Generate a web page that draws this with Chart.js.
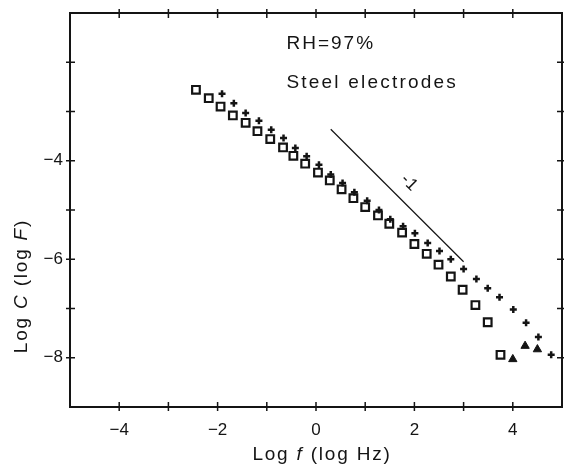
<!DOCTYPE html>
<html>
<head>
<meta charset="utf-8">
<script src="https://cdn.jsdelivr.net/npm/chart.js@4.4.1/dist/chart.umd.min.js"></script>
<style>
  html, body { margin: 0; padding: 0; background: #fff; }
  #wrap { width: 564px; height: 473px; }
</style>
</head>
<body>
<div id="wrap"><canvas id="capChart" width="564" height="473"></canvas></div>
<script>
// capacitance vs frequency, steel electrodes, RH = 97 %
// log f in log Hz, log C in log F
const squareLogF = [-2.44, -2.18, -1.94, -1.69, -1.43, -1.19, -0.93, -0.67, -0.46, -0.22,
                    0.04, 0.28, 0.52, 0.76, 1.0, 1.26, 1.49, 1.75, 2.0, 2.25,
                    2.49, 2.74, 2.98, 3.24, 3.49, 3.75];
const squareLogC = [-2.56, -2.73, -2.90, -3.08, -3.23, -3.40, -3.56, -3.73, -3.90, -4.06,
                    -4.24, -4.40, -4.58, -4.76, -4.94, -5.11, -5.28, -5.46, -5.69, -5.89,
                    -6.11, -6.35, -6.62, -6.93, -7.28, -7.94];

const plusLogF = [-1.91, -1.67, -1.43, -1.16, -0.91, -0.66, -0.42, -0.19, 0.06, 0.30,
                  0.54, 0.78, 1.04, 1.28, 1.51, 1.77, 2.01, 2.27, 2.51, 2.74,
                  3.0, 3.26, 3.49, 3.73, 4.01, 4.27, 4.52, 4.78];
const plusLogC = [-2.64, -2.83, -3.03, -3.19, -3.37, -3.54, -3.74, -3.91, -4.08, -4.28,
                  -4.45, -4.64, -4.81, -5.0, -5.19, -5.33, -5.47, -5.67, -5.83, -6.0,
                  -6.20, -6.40, -6.59, -6.77, -7.02, -7.29, -7.58, -7.94];

const triLogF = [4.0, 4.25, 4.5];
const triLogC = [-8.03, -7.76, -7.83];

// reference slope of -1
const slopeLogF = [0.3, 3.0];
const slopeLogC = [-3.36, -6.05];

const xLabelled = [-4, -2, 0, 2, 4];
const yLabelled = [-4, -6, -8];

const ink = '#141414';
const font = '"Liberation Sans", Arial, sans-serif';

const toPts = (xs, ys) => xs.map((v, i) => ({ x: v, y: ys[i] }));
const fmt = v => (v < 0 ? '\u2212' + Math.abs(v) : String(v));

// draw a run of text pieces (some italic) starting at x
function drawRuns(ctx, runs, x, y, align, spacing) {
  ctx.letterSpacing = spacing + 'px';
  let total = 0;
  runs.forEach(r => {
    ctx.font = (r.it ? 'italic ' : '') + r.size + 'px ' + font;
    r.w = ctx.measureText(r.t).width;
    total += r.w;
  });
  let cx = align === 'center' ? x - total / 2 : x;
  runs.forEach(r => {
    ctx.font = (r.it ? 'italic ' : '') + r.size + 'px ' + font;
    ctx.fillText(r.t, cx, y);
    cx += r.w;
  });
}

const framePlugin = {
  id: 'frame',
  afterDraw(chart) {
    const { ctx, chartArea: a, scales: { x, y } } = chart;
    ctx.save();
    ctx.strokeStyle = ink;
    ctx.fillStyle = ink;
    ctx.lineWidth = 2;
    ctx.strokeRect(a.left, a.top, a.right - a.left, a.bottom - a.top);

    // ticks cross the frame on all four sides
    ctx.lineWidth = 1.5;
    ctx.beginPath();
    x.ticks.forEach(t => {
      const px = x.getPixelForValue(t.value);
      if (px <= a.left + 1 || px >= a.right - 1) return;
      ctx.moveTo(px, a.bottom - 5); ctx.lineTo(px, a.bottom + 4);
      ctx.moveTo(px, a.top - 4); ctx.lineTo(px, a.top + 5);
    });
    y.ticks.forEach(t => {
      const py = y.getPixelForValue(t.value);
      if (py <= a.top + 1 || py >= a.bottom - 1) return;
      ctx.moveTo(a.left - 4, py); ctx.lineTo(a.left + 5, py);
      ctx.moveTo(a.right - 5, py); ctx.lineTo(a.right + 4, py);
    });
    ctx.stroke();

    // notes inside the plot
    ctx.textAlign = 'left';
    ctx.textBaseline = 'alphabetic';
    drawRuns(ctx, [{ t: 'RH=97%', size: 19 }], x.getPixelForValue(-0.6), y.getPixelForValue(-1.74), 'left', 2);
    drawRuns(ctx, [{ t: 'Steel electrodes', size: 19 }], x.getPixelForValue(-0.6), y.getPixelForValue(-2.52), 'left', 2.2);

    // slope label
    ctx.save();
    ctx.translate(x.getPixelForValue(1.9), y.getPixelForValue(-4.45));
    ctx.rotate(Math.PI / 4);
    ctx.textAlign = 'center';
    ctx.textBaseline = 'middle';
    ctx.letterSpacing = '1px';
    ctx.font = '17px ' + font;
    ctx.fillText('-1', 0, 0);
    ctx.restore();

    // axis titles
    ctx.textAlign = 'left';
    ctx.textBaseline = 'alphabetic';
    drawRuns(ctx, [
      { t: 'Log ', size: 19 },
      { t: 'f', size: 19, it: true },
      { t: ' (log Hz)', size: 19 }
    ], 322, 460, 'center', 1.8);

    ctx.save();
    ctx.translate(27, 286);
    ctx.rotate(-Math.PI / 2);
    drawRuns(ctx, [
      { t: 'Log ', size: 19 },
      { t: 'C', size: 19, it: true },
      { t: ' (log ', size: 19 },
      { t: 'F', size: 19, it: true },
      { t: ')', size: 19 }
    ], 0, 0, 'center', 1.8);
    ctx.restore();

    ctx.restore();
  }
};

new Chart(document.getElementById('capChart'), {
  type: 'scatter',
  data: {
    datasets: [
      {
        type: 'line',
        data: toPts(slopeLogF, slopeLogC),
        borderColor: ink,
        borderWidth: 1.2,
        pointRadius: 0,
        fill: false
      },
      {
        data: toPts(squareLogF, squareLogC),
        pointStyle: 'rect',
        pointRadius: 5.4,
        pointBorderWidth: 2.2,
        borderColor: ink,
        backgroundColor: 'rgba(255,255,255,0)'
      },
      {
        data: toPts(plusLogF, plusLogC),
        pointStyle: 'cross',
        pointRadius: 3.5,
        pointBorderWidth: 2.5,
        borderColor: ink,
        backgroundColor: ink
      },
      {
        data: toPts(triLogF, triLogC),
        pointStyle: 'triangle',
        pointRadius: 4.8,
        pointBorderWidth: 1,
        borderColor: ink,
        backgroundColor: ink
      }
    ]
  },
  options: {
    responsive: false,
    devicePixelRatio: 1,
    animation: false,
    events: [],
    layout: { autoPadding: false, padding: { top: 13, right: 2, left: 0, bottom: 0 } },
    plugins: { legend: { display: false }, tooltip: { enabled: false } },
    scales: {
      x: {
        type: 'linear',
        min: -5, max: 5,
        grid: { color: 'rgba(0,0,0,0)', drawOnChartArea: false, tickLength: 4 },
        border: { display: false },
        ticks: {
          stepSize: 1,
          autoSkip: false,
          maxRotation: 0,
          padding: 9,
          color: ink,
          font: { family: font, size: 17 },
          callback: v => (xLabelled.includes(v) ? fmt(v) : '')
        },
        afterFit: s => { s.height = 66; s.paddingLeft = 0; s.paddingRight = 0; }
      },
      y: {
        type: 'linear',
        min: -9, max: -1,
        grid: { color: 'rgba(0,0,0,0)', drawOnChartArea: false, tickLength: 4 },
        border: { display: false },
        ticks: {
          stepSize: 1,
          autoSkip: false,
          padding: 3,
          color: ink,
          font: { family: font, size: 17 },
          callback: v => (yLabelled.includes(v) ? fmt(v) : '')
        },
        afterFit: s => { s.width = 70; s.paddingTop = 0; s.paddingBottom = 0; }
      }
    }
  },
  plugins: [framePlugin]
});
</script>
</body>
</html>
